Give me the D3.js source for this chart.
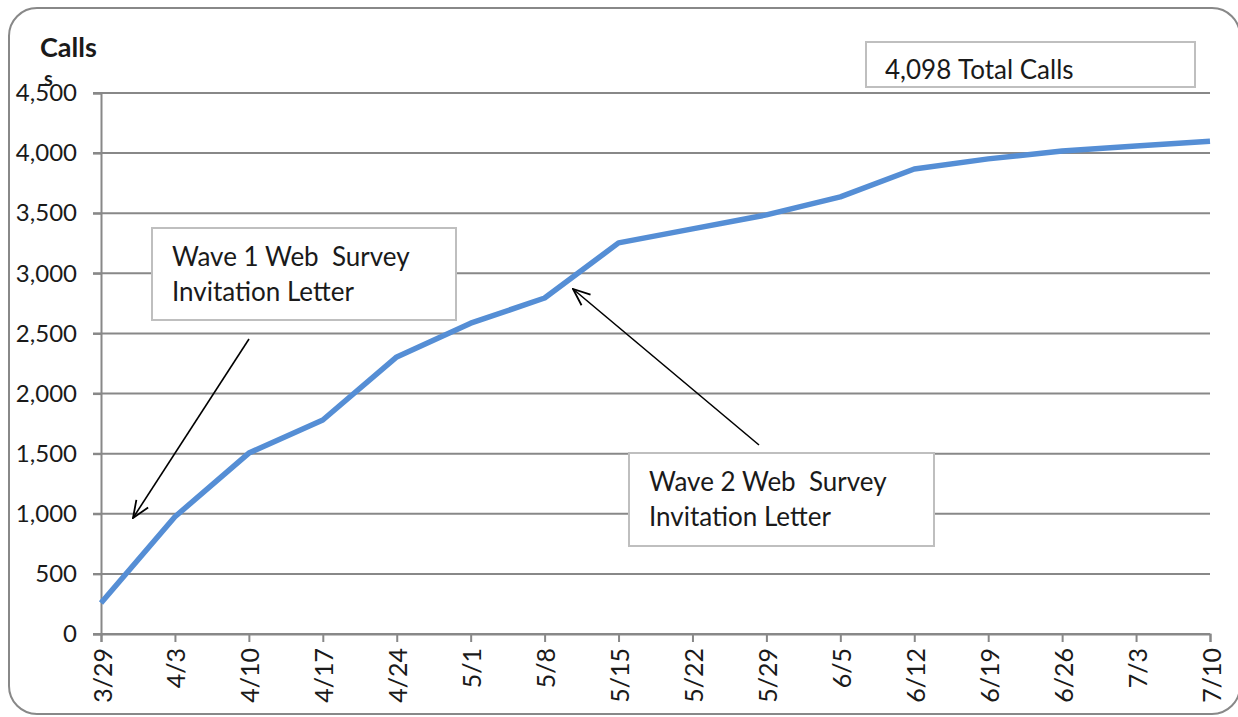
<!DOCTYPE html>
<html>
<head>
<meta charset="utf-8">
<script src="https://cdn.jsdelivr.net/npm/d3@7/dist/d3.min.js"></script>
<style>
  html, body { margin: 0; padding: 0; background: #fff; }
  svg { display: block; }
  text { font-family: Lato, "Open Sans", sans-serif; fill: #1a1a1a; }
</style>
</head>
<body>
<svg id="chart" width="1238" height="717"></svg>
<script>
const dates = ["3/29","4/3","4/10","4/17","4/24","5/1","5/8","5/15","5/22","5/29","6/5","6/12","6/19","6/26","7/3","7/10"];
const calls = [258, 975, 1505, 1780, 2305, 2585, 2795, 3253, 3370, 3486, 3636, 3868, 3952, 4018, 4060, 4098];
const yTicks = [0, 500, 1000, 1500, 2000, 2500, 3000, 3500, 4000, 4500];
const totalLabel = "4,098";
const wave1Lines = ["Wave 1 Web  Survey", "Invitation Letter"];
const wave2Lines = ["Wave 2 Web  Survey", "Invitation Letter"];

const svg = d3.select("#chart");
const grey = "#888888";

// outer rounded border
svg.append("rect").attr("x", 9).attr("y", 8).attr("width", 1231).attr("height", 706)
  .attr("rx", 28).attr("ry", 28).attr("fill", "#fff").attr("stroke", grey).attr("stroke-width", 2);

const x = d3.scalePoint().domain(dates).range([101, 1210]).padding(0);
const y = d3.scaleLinear().domain([0, 4500]).range([634, 93]);

// gridlines
svg.append("g").selectAll("line").data(yTicks).join("line")
  .attr("x1", 93).attr("x2", 1210)
  .attr("y1", d => y(d)).attr("y2", d => y(d))
  .attr("stroke", grey).attr("stroke-width", 2);

// y axis
const yAxis = svg.append("g").attr("transform", "translate(101,0)")
  .call(d3.axisLeft(y).tickValues(yTicks).tickSize(8).tickPadding(16).tickFormat(d3.format(",")));
yAxis.select(".domain").attr("stroke", grey).attr("stroke-width", 2);
yAxis.selectAll(".tick line").attr("stroke", grey).attr("stroke-width", 2);
yAxis.selectAll(".tick text").attr("font-size", 24).attr("font-family", "Lato, sans-serif").attr("fill", "#1a1a1a");

// x axis
const xAxis = svg.append("g").attr("transform", "translate(0,634)")
  .call(d3.axisBottom(x).tickSize(8).tickPadding(0));
xAxis.select(".domain").attr("stroke", grey).attr("stroke-width", 2);
xAxis.selectAll(".tick line").attr("stroke", grey).attr("stroke-width", 2);
xAxis.selectAll(".tick text")
  .attr("font-size", 25).attr("font-family", "Lato, sans-serif").attr("fill", "#1a1a1a")
  .attr("text-anchor", "end").attr("dy", null).attr("y", 0)
  .attr("transform", "translate(0,14) rotate(-90)")
  .attr("dominant-baseline", "central");

// line
svg.append("path").datum(calls)
  .attr("fill", "none").attr("stroke", "#558ED5").attr("stroke-width", 5.5)
  .attr("stroke-linejoin", "round")
  .attr("d", d3.line().x((d, i) => x(dates[i])).y(d => y(d)));

// axis title
svg.append("text").attr("x", 40).attr("y", 57).attr("font-size", 27).attr("font-weight", "bold").text("Calls");
svg.append("text").attr("x", 44).attr("y", 86).attr("font-size", 20).attr("font-weight", "bold").text("s");

// total box
svg.append("rect").attr("x", 866).attr("y", 42).attr("width", 329).attr("height", 45)
  .attr("fill", "#fff").attr("stroke", "#bfbfbf").attr("stroke-width", 2);
svg.append("text").attr("x", 885).attr("y", 79).attr("font-size", 26).text(totalLabel);
svg.append("text").attr("x", 958).attr("y", 79).attr("font-size", 26).text("Total Calls");

// arrow marker
const defs = svg.append("defs");
defs.append("marker").attr("id", "arr").attr("viewBox", "0 0 20 20")
  .attr("refX", 19).attr("refY", 10).attr("markerWidth", 20).attr("markerHeight", 20)
  .attr("markerUnits", "userSpaceOnUse").attr("orient", "auto")
  .append("path").attr("d", "M2,3 L19,10 L2,17").attr("fill", "none").attr("stroke", "#000").attr("stroke-width", 1.8);

svg.append("line").attr("x1", 249).attr("y1", 339).attr("x2", 133).attr("y2", 518)
  .attr("stroke", "#000").attr("stroke-width", 1.6).attr("marker-end", "url(#arr)");
svg.append("line").attr("x1", 759).attr("y1", 445).attr("x2", 573).attr("y2", 289)
  .attr("stroke", "#000").attr("stroke-width", 1.6).attr("marker-end", "url(#arr)");

// annotation boxes
function box(x0, y0, w, h, lines) {
  svg.append("rect").attr("x", x0).attr("y", y0).attr("width", w).attr("height", h)
    .attr("fill", "#fff").attr("stroke", "#bfbfbf").attr("stroke-width", 2);
  lines.forEach((t, i) => {
    svg.append("text").attr("x", x0 + 20).attr("y", y0 + 38 + i * 35)
      .attr("font-size", 26).style("white-space", "pre").text(t);
  });
}
box(152, 228, 304, 92, wave1Lines);
box(629, 453, 305, 93, wave2Lines);
</script>
</body>
</html>
